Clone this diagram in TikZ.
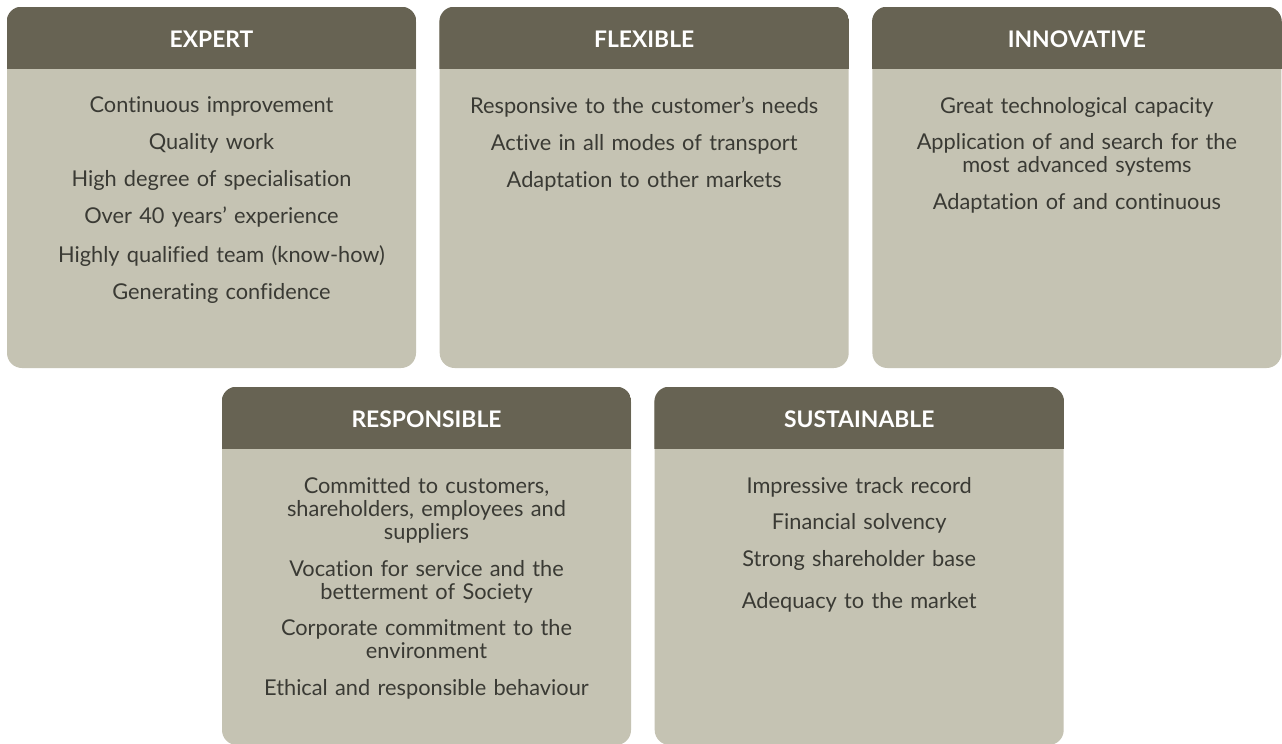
\documentclass[tikz,border=0pt]{standalone}
\usepackage{fontspec}
\setmainfont[Ligatures={NoCommon}]{Lato}
\usetikzlibrary{positioning}
\definecolor{headgrey}{HTML}{676353}
\definecolor{bodygrey}{HTML}{C5C3B3}
\definecolor{textgrey}{HTML}{3A3A34}
\tikzstyle{card} = [rectangle, rounded corners=0.3cm, minimum width=8.18cm, minimum height=7.22cm, inner sep=0pt, fill=bodygrey]
\tikzstyle{lowcard} = [card, minimum height=7.16cm]
\tikzstyle{cardtitle} = [text=white, inner sep=0pt, font=\bfseries\fontsize{13}{15}\selectfont]
\tikzstyle{cardtext} = [anchor=north, inner sep=0pt, text=textgrey, align=center, text width=8cm, font=\fontsize{12.4}{13.1}\selectfont]

\begin{document}
\begin{tikzpicture}[node distance=0.46cm]
  \useasboundingbox [fill=white] (0,0) rectangle (25.64,-14.86);
  % the five cards
  \node (expert) [card] at (4.23,-3.75) {};
  \node (flexible) [card, right = of expert] {};
  \node (innovative) [card, right = of flexible] {};
  \node (responsible) [lowcard] at (8.53,-11.32) {};
  \node (sustainable) [lowcard, right = of responsible] {};
  % dark headers
  \foreach \c in {expert, flexible, innovative, responsible, sustainable} {
    \begin{scope}
      \clip [rounded corners=0.3cm] (\c.north west) rectangle (\c.south east);
      \fill [headgrey] (\c.north west) rectangle ([yshift=-1.24cm]\c.north east);
    \end{scope}
  }
  % titles
  \node (expert-t) [cardtitle] at ([yshift=-0.66cm]expert.north) {EXPERT};
  \node (flexible-t) [cardtitle] at ([yshift=-0.66cm]flexible.north) {FLEXIBLE};
  \node (innovative-t) [cardtitle] at ([yshift=-0.66cm]innovative.north) {INNOVATIVE};
  \node (responsible-t) [cardtitle] at ([yshift=-0.66cm]responsible.north) {RESPONSIBLE};
  \node (sustainable-t) [cardtitle] at ([yshift=-0.66cm]sustainable.north) {SUSTAINABLE};
  % contents
  \node (expert-x) [cardtext] at ([yshift=-1.8cm]expert.north) {Continuous improvement\\[7.9pt]
    Quality work\\[7.9pt]
    High degree of specialisation\\[7.9pt]
    Over 40 years’ experience\\[9pt]
    \hspace{0.4cm}Highly qualified team (know-how)\\[7.9pt]
    \hspace{0.4cm}Generating confidence};
  \node (flexible-x) [cardtext] at ([yshift=-1.8cm]flexible.north) {Responsive to the customer’s needs\\[7.9pt]
    Active in all modes of transport\\[7.9pt]
    Adaptation to other markets};
  \node (innovative-x) [cardtext] at ([yshift=-1.8cm]innovative.north) {Great technological capacity\\[7.9pt]
    Application of and search for the\\ most advanced systems\\[7.9pt]
    Adaptation of and continuous};
  \node (responsible-x) [cardtext] at ([yshift=-1.8cm]responsible.north) {Committed to customers,\\
    shareholders, employees and\\ suppliers\\[7.9pt]
    Vocation for service and the\\ betterment of Society\\[7.9pt]
    Corporate commitment to the\\ environment\\[7.9pt]
    Ethical and responsible behaviour};
  \node (sustainable-x) [cardtext] at ([yshift=-1.8cm]sustainable.north) {Impressive track record\\[7.9pt]
    Financial solvency\\[7.9pt]
    Strong shareholder base\\[10.5pt]
    Adequacy to the market};
\end{tikzpicture}
\end{document}
